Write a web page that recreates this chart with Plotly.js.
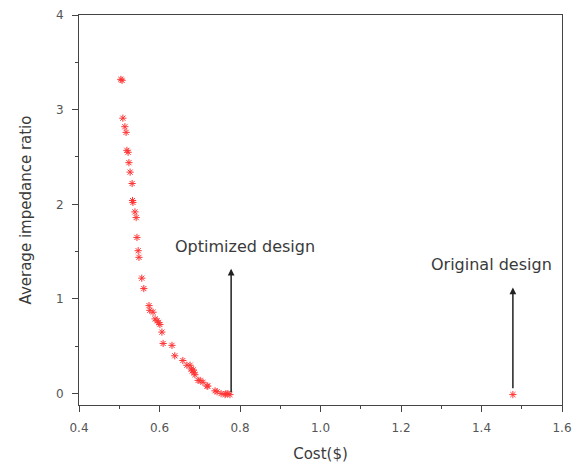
<!DOCTYPE html>
<html><head><meta charset="utf-8">
<script src="https://cdn.plot.ly/plotly-3.0.1.min.js"></script>
<style>html,body{margin:0;padding:0;background:#fff}#c{width:577px;height:465px}</style>
</head><body><div id="c"></div>
<script>
var costs = [0.504,0.507,0.509,0.514,0.517,0.519,0.522,0.524,0.527,0.532,0.533,0.534,0.539,0.542,0.544,0.547,0.549,0.556,0.561,0.574,0.576,0.584,0.589,0.594,0.598,0.601,0.606,0.609,0.631,0.638,0.658,0.668,0.676,0.679,0.681,0.684,0.686,0.688,0.696,0.701,0.708,0.718,0.720,0.738,0.743,0.753,0.763,0.765,0.770,0.775,1.478];
var ratios = [3.32,3.31,2.91,2.82,2.76,2.57,2.55,2.44,2.34,2.22,2.04,2.02,1.92,1.86,1.65,1.51,1.44,1.22,1.11,0.93,0.88,0.86,0.79,0.77,0.75,0.73,0.65,0.53,0.51,0.40,0.35,0.30,0.30,0.26,0.24,0.25,0.22,0.20,0.14,0.14,0.12,0.08,0.08,0.03,0.02,0.00,-0.01,0.00,0.00,-0.01,-0.01];
var labels = ["Optimized design","Original design"];
var labelX = [0.812,1.425];
var labelY = [1.55,1.36];
var arrowX = [0.778,1.478];
var arrowTop = [1.32,1.12];
var arrowBase = [0.0,0.04];

var FONT = 'DejaVu Sans, Verdana, sans-serif';
var trace = {x:costs, y:ratios, type:'scatter', mode:'markers',
  marker:{symbol:'asterisk-open', size:6, color:'#ff3535', line:{color:'#ff3535', width:1}}, hoverinfo:'none'};

var ann = [];
for (var i=0;i<labels.length;i++){
  ann.push({x:labelX[i], y:labelY[i], xref:'x', yref:'y', text:labels[i], showarrow:false,
    font:{family:FONT, size:16, color:'#3a3a3a'}});
  ann.push({x:arrowX[i], y:arrowTop[i], ax:arrowX[i], ay:arrowBase[i], xref:'x', yref:'y', axref:'x', ayref:'y',
    text:'', showarrow:true, arrowhead:2, arrowsize:0.9, arrowwidth:1.5, arrowcolor:'#222', standoff:0, startstandoff:0});
}

var axisCommon = {showgrid:false, zeroline:false, showline:true, linecolor:'#444', linewidth:1, mirror:true,
  ticks:'outside', ticklen:6, tickcolor:'#444', tickwidth:1,
  tickfont:{family:FONT, size:12, color:'#555'}};

var layout = {
  width:577, height:465, margin:{l:79, r:15, t:15, b:60},
  paper_bgcolor:'#fff', plot_bgcolor:'#fff', showlegend:false,
  xaxis:Object.assign({}, axisCommon, {range:[0.4,1.6], dtick:0.2, tick0:0.4, tickformat:'.1f', ticklabelstandoff:6,
    minor:{dtick:0.1, ticks:'outside', ticklen:3, tickcolor:'#444'},
    title:{text:'Cost($)', standoff:14, font:{family:FONT, size:15, color:'#3a3a3a'}}}),
  yaxis:Object.assign({}, axisCommon, {range:[-0.12,4], dtick:1, tick0:0, ticklabelstandoff:6,
    minor:{dtick:0.5, ticks:'outside', ticklen:3, tickcolor:'#444'},
    title:{text:'Average impedance ratio', standoff:20, font:{family:FONT, size:15, color:'#3a3a3a'}}}),
  annotations:ann
};
Plotly.newPlot('c',[trace],layout,{staticPlot:true});
</script></body></html>
